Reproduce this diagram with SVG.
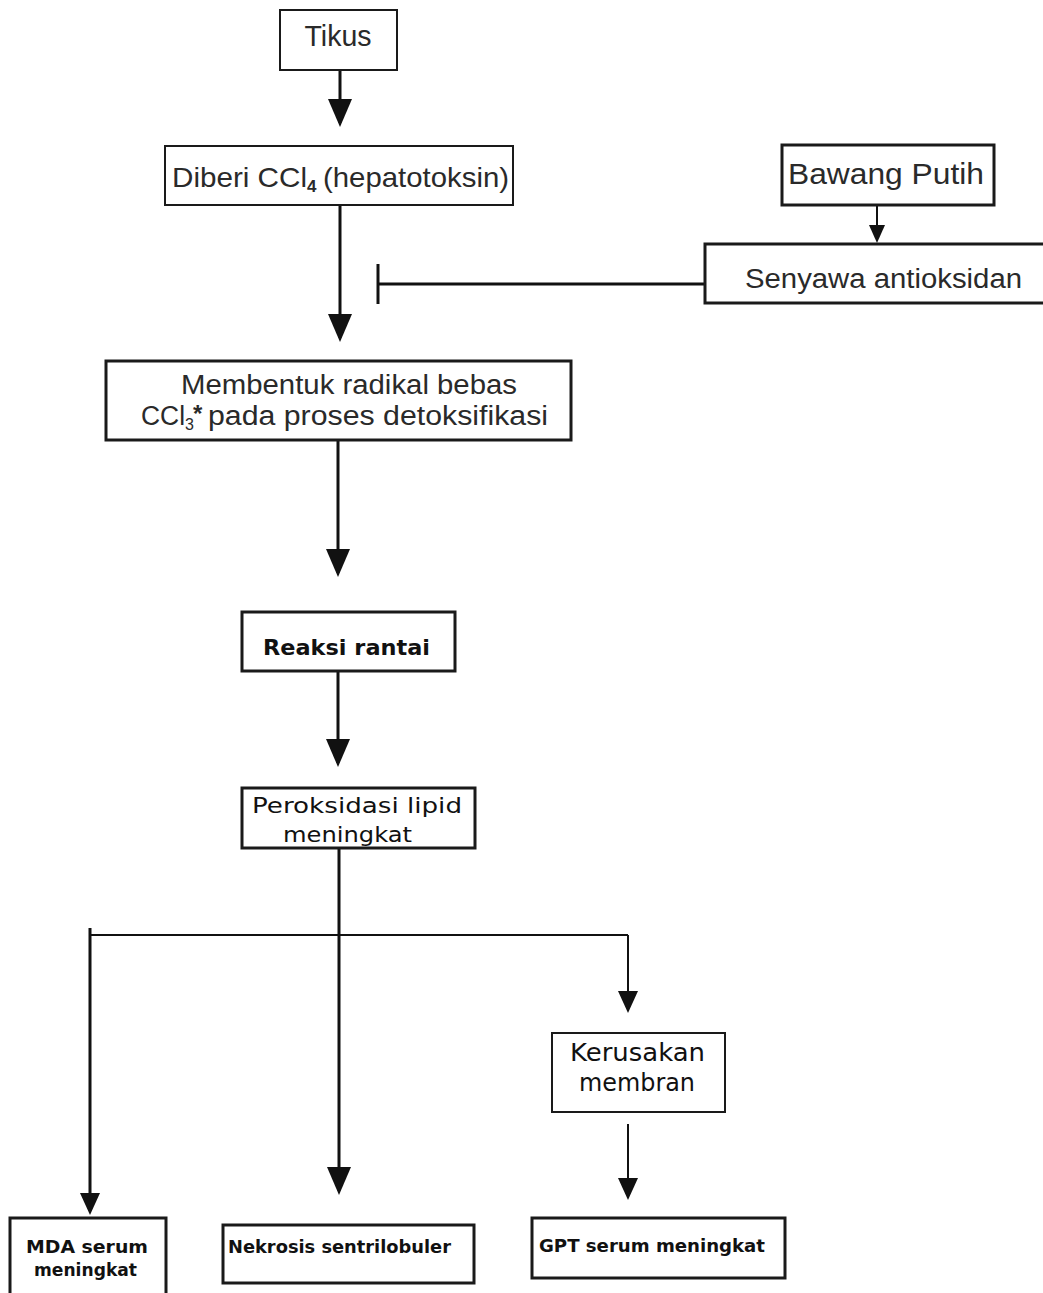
<svg xmlns="http://www.w3.org/2000/svg" width="1043" height="1293" viewBox="0 0 1043 1293">
<style>
  .box { fill: #fff; stroke: #1a1a1a; stroke-width: 2; }
  .thick { stroke-width: 3; }
  .t { font-family: "Liberation Sans", Arial, sans-serif; fill: #2a2a2a; }
  .v { font-family: "DejaVu Sans", Verdana, sans-serif; fill: #111; }
  .vb { font-family: "DejaVu Sans", Verdana, sans-serif; font-weight: bold; fill: #111; }
  .ln { stroke: #111; stroke-width: 3; fill: none; }
  .ln2 { stroke: #111; stroke-width: 2; fill: none; }
</style>
<defs>
  <marker id="ah" markerUnits="userSpaceOnUse" markerWidth="28" markerHeight="24" viewBox="0 0 28 24" refX="24" refY="12" orient="auto">
    <path d="M0,0 L28,12 L0,24 z" fill="#111"/>
  </marker>
  <marker id="am" markerUnits="userSpaceOnUse" markerWidth="22" markerHeight="20" viewBox="0 0 22 20" refX="18" refY="10" orient="auto">
    <path d="M0,0 L22,10 L0,20 z" fill="#111"/>
  </marker>
  <marker id="as" markerUnits="userSpaceOnUse" markerWidth="18" markerHeight="16" viewBox="0 0 18 16" refX="14" refY="8" orient="auto">
    <path d="M0,0 L18,8 L0,16 z" fill="#111"/>
  </marker>
</defs>

<g id="connectors">
  <line class="ln" x1="340" y1="70" x2="340" y2="123" marker-end="url(#ah)"/>
  <line class="ln" x1="340" y1="205" x2="340" y2="338" marker-end="url(#ah)"/>
  <line class="ln" x1="338" y1="440" x2="338" y2="573" marker-end="url(#ah)"/>
  <line class="ln" x1="338" y1="671" x2="338" y2="763" marker-end="url(#ah)"/>
  <line class="ln" x1="339" y1="848" x2="339" y2="1191" marker-end="url(#ah)"/>
  <line class="ln2" x1="89" y1="935" x2="628" y2="935"/>
  <line class="ln" x1="90" y1="928" x2="90" y2="1211" marker-end="url(#am)"/>
  <line class="ln2" x1="628" y1="935" x2="628" y2="1009" marker-end="url(#am)"/>
  <line class="ln2" x1="628" y1="1124" x2="628" y2="1196" marker-end="url(#am)"/>
  <line class="ln2" x1="877" y1="205" x2="877" y2="239" marker-end="url(#as)"/>
  <line class="ln" x1="705" y1="284" x2="378" y2="284"/>
  <line class="ln" x1="378" y1="264" x2="378" y2="304"/>
</g>

<g id="tikus">
  <rect class="box" x="280" y="10" width="117" height="60"/>
  <text class="t" x="338" y="46" font-size="29" text-anchor="middle" textLength="67" lengthAdjust="spacingAndGlyphs">Tikus</text>
</g>

<g id="diberi">
  <rect class="box" x="165" y="146" width="348" height="59"/>
  <text class="t" x="172" y="187" font-size="28" textLength="135" lengthAdjust="spacingAndGlyphs">Diberi CCl</text>
  <text class="t" x="307" y="192" font-size="17" font-weight="bold">4</text>
  <text class="t" x="323" y="187" font-size="28" textLength="186" lengthAdjust="spacingAndGlyphs">(hepatotoksin)</text>
</g>

<g id="bawang">
  <rect class="box thick" x="782" y="145" width="212" height="60"/>
  <text class="t" x="788" y="184" font-size="29" fill="#111" textLength="196" lengthAdjust="spacingAndGlyphs">Bawang Putih</text>
</g>

<g id="senyawa">
  <rect class="box thick" x="705" y="244" width="340" height="59"/>
  <text class="t" x="745" y="288" font-size="27" textLength="277" lengthAdjust="spacingAndGlyphs">Senyawa antioksidan</text>
</g>

<g id="membentuk">
  <rect class="box thick" x="106" y="361" width="465" height="79"/>
  <text class="t" x="181" y="394" font-size="27" textLength="336" lengthAdjust="spacingAndGlyphs">Membentuk radikal bebas</text>
  <text class="t" x="141" y="425" font-size="27" textLength="44" lengthAdjust="spacingAndGlyphs">CCl</text>
  <text class="t" x="185" y="430" font-size="16">3</text>
  <text class="t" x="193" y="422" font-size="24" font-weight="bold">*</text>
  <text class="t" x="208" y="425" font-size="27" textLength="340" lengthAdjust="spacingAndGlyphs">pada proses detoksifikasi</text>
</g>

<g id="reaksi">
  <rect class="box thick" x="242" y="612" width="213" height="59"/>
  <text class="vb" x="263" y="655" font-size="22" textLength="167" lengthAdjust="spacingAndGlyphs">Reaksi rantai</text>
</g>

<g id="peroksidasi">
  <rect class="box thick" x="242" y="788" width="233" height="60"/>
  <text class="v" x="252" y="813" font-size="22" textLength="210" lengthAdjust="spacingAndGlyphs">Peroksidasi lipid</text>
  <text class="v" x="283" y="842" font-size="22" textLength="129" lengthAdjust="spacingAndGlyphs">meningkat</text>
</g>

<g id="kerusakan">
  <rect class="box" x="552" y="1033" width="173" height="79"/>
  <text class="v" x="570" y="1061" font-size="24" textLength="135" lengthAdjust="spacingAndGlyphs">Kerusakan</text>
  <text class="v" x="579" y="1091" font-size="24" textLength="116" lengthAdjust="spacingAndGlyphs">membran</text>
</g>

<g id="mda">
  <rect class="box thick" x="10" y="1218" width="156" height="80"/>
  <text class="vb" x="26" y="1253" font-size="18" textLength="122" lengthAdjust="spacingAndGlyphs">MDA  serum</text>
  <text class="vb" x="34" y="1276" font-size="18" textLength="103" lengthAdjust="spacingAndGlyphs">meningkat</text>
</g>

<g id="nekrosis">
  <rect class="box thick" x="223" y="1225" width="251" height="58"/>
  <text class="vb" x="228" y="1253" font-size="18" textLength="223" lengthAdjust="spacingAndGlyphs">Nekrosis sentrilobuler</text>
</g>

<g id="gpt">
  <rect class="box thick" x="532" y="1218" width="253" height="60"/>
  <text class="vb" x="539" y="1252" font-size="18" textLength="226" lengthAdjust="spacingAndGlyphs">GPT serum meningkat</text>
</g>
</svg>
